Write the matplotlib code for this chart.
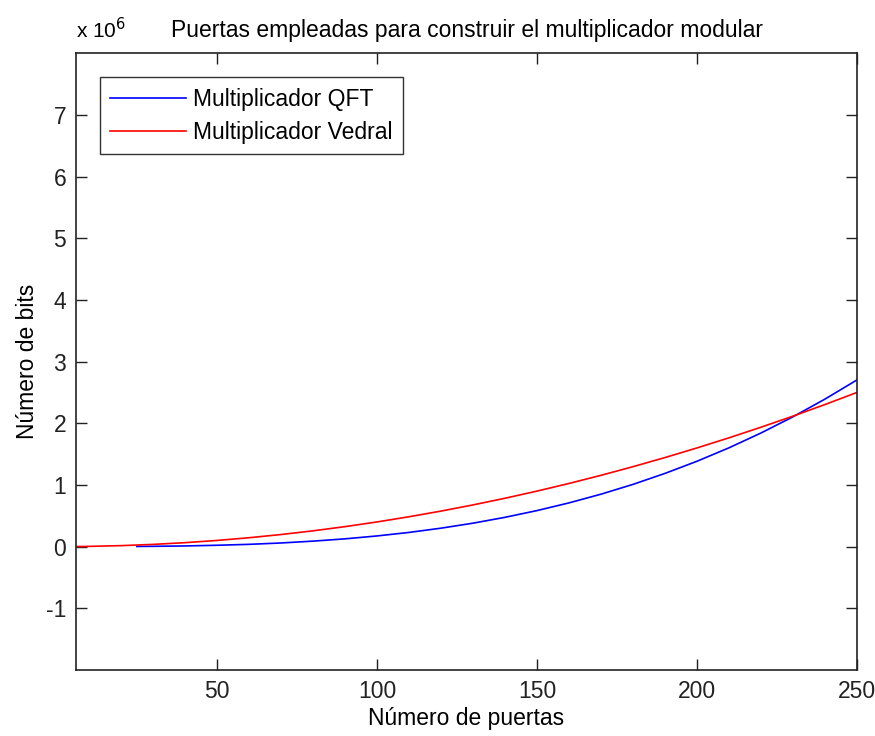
import matplotlib
matplotlib.use('Agg')
import matplotlib.pyplot as plt

# Number of bits (x) and gate counts (in units of 1e6)
qft_bits = [25, 30, 40, 50, 60, 70, 80, 90, 100, 110, 120, 130, 140, 150,
            160, 170, 180, 190, 200, 210, 220, 230, 240, 250]
qft_gates = [0.003, 0.005, 0.011, 0.022, 0.037, 0.059, 0.089, 0.126, 0.173,
             0.230, 0.299, 0.380, 0.475, 0.584, 0.709, 0.850, 1.009, 1.187,
             1.384, 1.602, 1.842, 2.105, 2.392, 2.703]

vedral_bits = [6, 10, 20, 30, 40, 50, 60, 70, 80, 90, 100, 110, 120, 130,
               140, 150, 160, 170, 180, 190, 200, 210, 220, 230, 240, 250]
vedral_gates = [0.0014, 0.004, 0.016, 0.036, 0.064, 0.100, 0.144, 0.196,
                0.256, 0.324, 0.400, 0.484, 0.576, 0.676, 0.784, 0.900, 1.024,
                1.156, 1.296, 1.444, 1.600, 1.764, 1.936, 2.116, 2.304, 2.500]

x_ticks = [50, 100, 150, 200, 250]
y_ticks = [-1, 0, 1, 2, 3, 4, 5, 6, 7]

plt.rcParams['font.family'] = ['Liberation Sans', 'DejaVu Sans']
plt.rcParams['axes.unicode_minus'] = False

fs = 16.5

fig = plt.figure(figsize=(8.75, 7.36), dpi=100)
ax = fig.add_axes([0.0869, 0.0897, 0.8925, 0.838])

ax.plot(qft_bits, qft_gates, color='#0000ff', lw=1.2, label='Multiplicador QFT')
ax.plot(vedral_bits, vedral_gates, color='#ff0000', lw=1.2, label='Multiplicador Vedral')

ax.set_xlim(6, 250)
ax.set_ylim(-2, 8)
ax.set_xticks(x_ticks)
ax.set_yticks(y_ticks)
ax.tick_params(direction='in', length=8, width=1, top=True, right=True,
               labelsize=fs, colors='#222222', pad=7)
for sp in ax.spines.values():
    sp.set_color('#222222')
    sp.set_linewidth(1.2)

ax.set_xlabel('Número de puertas', fontsize=fs, labelpad=3)
ax.set_ylabel('Número de bits', fontsize=fs, labelpad=5)
ax.set_title('Puertas empleadas para construir el multiplicador modular',
             fontsize=fs, pad=12)
ax.text(0.0, 1.018, r'x 10$^{6}$', transform=ax.transAxes, fontsize=15,
        va='bottom', ha='left')

leg = ax.legend(loc='upper left', fontsize=fs, frameon=True, fancybox=False,
                edgecolor='black', borderpad=0.45, handlelength=3.3,
                handletextpad=0.3, borderaxespad=1.05, labelspacing=0.45)
leg.get_frame().set_linewidth(1.0)

fig.savefig('out.png', dpi=100)
